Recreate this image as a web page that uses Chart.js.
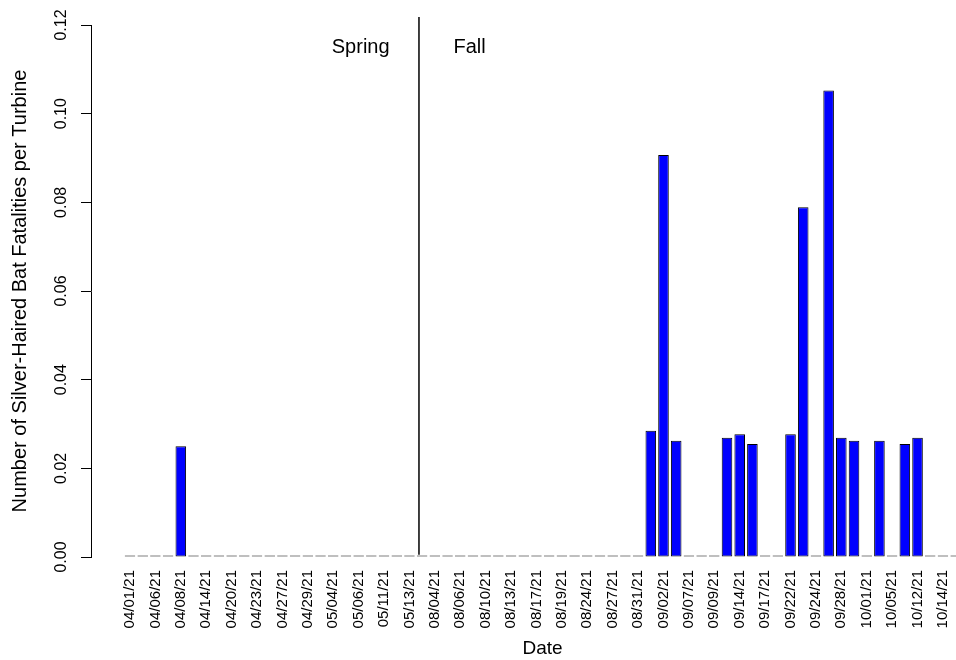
<!DOCTYPE html>
<html>
<head>
<meta charset="utf-8">
<title>Silver-Haired Bat Fatalities per Turbine</title>
<script src="https://cdn.jsdelivr.net/npm/chart.js@4/dist/chart.umd.min.js"></script>
<style>
  html, body { margin: 0; padding: 0; overflow: hidden; background: #fff; }
  #wrap { width: 1000px; height: 660px; }
</style>
</head>
<body>
<div id="wrap"><canvas id="myChart"></canvas></div>
<script>
// Survey dates (only every other one is labelled on the axis, like R drops overlapping names)
const dates = [
  '04/01/21', '04/05/21', '04/06/21', '04/07/21', '04/08/21', '04/12/21', '04/14/21', '04/16/21',
  '04/20/21', '04/21/21', '04/23/21', '04/26/21', '04/27/21', '04/28/21', '04/29/21', '05/03/21',
  '05/04/21', '05/05/21', '05/06/21', '05/10/21', '05/11/21', '05/12/21', '05/13/21', '08/03/21',
  '08/04/21', '08/05/21', '08/06/21', '08/09/21', '08/10/21', '08/12/21', '08/13/21', '08/16/21',
  '08/17/21', '08/18/21', '08/19/21', '08/23/21', '08/24/21', '08/26/21', '08/27/21', '08/30/21',
  '08/31/21', '09/01/21', '09/02/21', '09/03/21', '09/07/21', '09/08/21', '09/09/21', '09/13/21',
  '09/14/21', '09/16/21', '09/17/21', '09/21/21', '09/22/21', '09/23/21', '09/24/21', '09/27/21',
  '09/28/21', '09/30/21', '10/01/21', '10/04/21', '10/05/21', '10/08/21', '10/12/21', '10/13/21',
  '10/14/21', '10/15/21'
];

// Fatalities per turbine for each date
const fatalities = [
  0, 0, 0, 0, 0.0250, 0, 0, 0,
  0, 0, 0, 0, 0, 0, 0, 0,
  0, 0, 0, 0, 0, 0, 0, 0,
  0, 0, 0, 0, 0, 0, 0, 0,
  0, 0, 0, 0, 0, 0, 0, 0,
  0, 0.0285, 0.0907, 0.0262, 0, 0, 0, 0.0269,
  0.0277, 0.0255, 0, 0, 0.0277, 0.0789, 0, 0.1052,
  0.0269, 0.0262, 0, 0.0262, 0, 0.0255, 0.0269, 0,
  0, 0
];

const yTicks = [0, 0.02, 0.04, 0.06, 0.08, 0.10, 0.12];

// season divider and season labels (in bar-index / value units)
const dividerX = 22.75;
const dividerY = [0.0005, 0.1218];
const seasonLabels = [
  { text: 'Spring', x: 18.16, y: 0.115 },
  { text: 'Fall', x: 26.73, y: 0.115 }
];

Chart.defaults.font.family = '"Liberation Sans", Arial, sans-serif';
Chart.defaults.color = '#000';

const seasonText = {
  id: 'seasonText',
  afterDatasetsDraw(chart) {
    const { ctx, scales } = chart;
    ctx.save();
    ctx.fillStyle = '#000';
    ctx.font = '20px "Liberation Sans", Arial, sans-serif';
    ctx.textAlign = 'center';
    ctx.textBaseline = 'middle';
    seasonLabels.forEach(s => {
      ctx.fillText(s.text, scales.x.getPixelForValue(s.x), scales.y.getPixelForValue(s.y));
    });
    ctx.restore();
  }
};

const ctx = document.getElementById('myChart').getContext('2d');

new Chart(ctx, {
  type: 'bar',
  data: {
    datasets: [
      {
        type: 'bar',
        data: fatalities.map((v, i) => ({ x: i, y: v })),
        backgroundColor: '#0000ff',
        borderColor: '#000',
        borderWidth: 1,
        borderSkipped: false,
        minBarLength: 1.5,
        barPercentage: 0.833,
        categoryPercentage: 1
      },
      {
        type: 'line',
        data: dividerY.map(y => ({ x: dividerX, y: y })),
        borderColor: '#000',
        borderWidth: 1.5,
        pointRadius: 0,
        clip: false
      }
    ]
  },
  options: {
    responsive: true,
    maintainAspectRatio: false,
    animation: false,
    layout: { padding: { top: 25, right: 6, left: 0, bottom: 0 } },
    plugins: {
      legend: { display: false },
      tooltip: { enabled: false }
    },
    scales: {
      x: {
        type: 'linear',
        offset: false,
        min: -3.07,
        max: 68.02,
        grid: { display: false, drawTicks: false },
        border: { display: false },
        afterBuildTicks: scale => {
          scale.ticks = dates.map((d, i) => ({ value: i })).filter(t => t.value % 2 === 0);
        },
        afterFit: scale => { scale.height = 103; },
        ticks: {
          autoSkip: false,
          minRotation: 90,
          maxRotation: 90,
          padding: 13,
          font: { size: 15 },
          callback: v => dates[v] ?? null
        },
        title: {
          display: true,
          text: 'Date',
          font: { size: 19 },
          padding: { top: 0, bottom: 0 }
        }
      },
      y: {
        min: 0,
        max: 0.12,
        afterBuildTicks: scale => {
          scale.ticks = yTicks.map(v => ({ value: v }));
        },
        afterFit: scale => { scale.width = 91; },
        grid: {
          drawOnChartArea: false,
          drawTicks: true,
          tickLength: 10,
          color: '#000',
          lineWidth: 1
        },
        border: { display: true, color: '#000', width: 1 },
        ticks: {
          minRotation: 90,
          crossAlign: 'center',
          padding: 4,
          font: { size: 16 },
          callback: v => v.toFixed(2)
        },
        title: {
          display: true,
          text: 'Number of Silver-Haired Bat Fatalities per Turbine',
          font: { size: 20 },
          padding: { top: 8, bottom: 0 }
        }
      }
    }
  },
  plugins: [seasonText]
});
</script>
</body>
</html>
